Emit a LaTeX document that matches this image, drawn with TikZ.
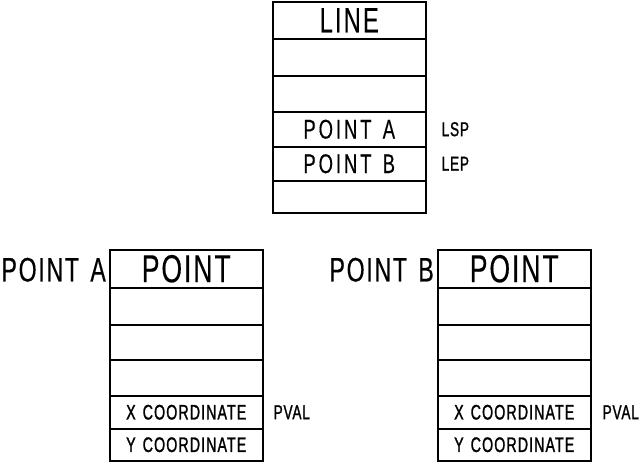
\documentclass[tikz,border=0pt]{standalone}
\usepackage{fontspec}
\newfontfamily\plotfont[FakeStretch=0.68, WordSpace=1.4]{Liberation Sans}
\newcommand\pf[3]{\plotfont\fontsize{#1}{#1}\selectfont\addfontfeatures{LetterSpace=#2, FakeBold=#3}}
\tikzset{
  row/.style={draw, line width=1.5pt, anchor=north west, minimum width=153pt, inner sep=0pt},
  big/.style={font=\pf{35}{6}{0.3}},
  head/.style={font=\pf{39}{5}{0.3}},
  mid/.style={font=\pf{27}{11}{0.4}},
  lab/.style={font=\pf{34}{5}{0.3}, inner sep=0pt},
  small/.style={font=\pf{21}{5}{1.2}},
  tag/.style={font=\pf{20}{4}{1.2}, inner sep=0pt, anchor=west},
}
\begin{document}
\begin{tikzpicture}[x=1pt,y=-1pt]
\useasboundingbox (0,0) rectangle (640,463);
% LINE box
\node[row, big, minimum height=37pt] (L0) at (272,1) {LINE};
\node[row, minimum height=37pt] (L1) at (272,38) {};
\node[row, minimum height=36pt] (L2) at (272,75) {};
\node[row, mid, minimum height=35pt] (L3) at (272,111) {POINT A};
\node[row, mid, minimum height=34pt] (L4) at (272,146) {POINT B};
\node[row, minimum height=32pt] (L5) at (272,180) {};
\node[tag] (lsp) at ([xshift=15pt]L3.east) {LSP};
\node[tag] (lep) at ([xshift=15pt]L4.east) {LEP};
% POINT A box
\node[row, head, minimum height=38pt] (A0) at (109,249) {POINT};
\node[row, minimum height=37pt] (A1) at (109,287) {};
\node[row, minimum height=35pt] (A2) at (109,324) {};
\node[row, minimum height=36pt] (A3) at (109,359) {};
\node[row, small, minimum height=33pt] (A4) at (109,395) {X COORDINATE};
\node[row, small, minimum height=32pt] (A5) at (109,428) {Y COORDINATE};
\node[lab, anchor=east] (la) at ([xshift=-3pt,yshift=-1pt]A0.west) {POINT A};
\node[tag] (pa) at ([xshift=10pt]A4.east) {PVAL};
% POINT B box
\node[row, head, minimum height=38pt] (B0) at (437,249) {POINT};
\node[row, minimum height=37pt] (B1) at (437,287) {};
\node[row, minimum height=35pt] (B2) at (437,324) {};
\node[row, minimum height=36pt] (B3) at (437,359) {};
\node[row, small, minimum height=33pt] (B4) at (437,395) {X COORDINATE};
\node[row, small, minimum height=32pt] (B5) at (437,428) {Y COORDINATE};
\node[lab, anchor=east] (lb) at ([xshift=-3pt,yshift=-1pt]B0.west) {POINT B};
\node[tag] (pb) at ([xshift=11pt]B4.east) {PVAL};
\end{tikzpicture}
\end{document}
